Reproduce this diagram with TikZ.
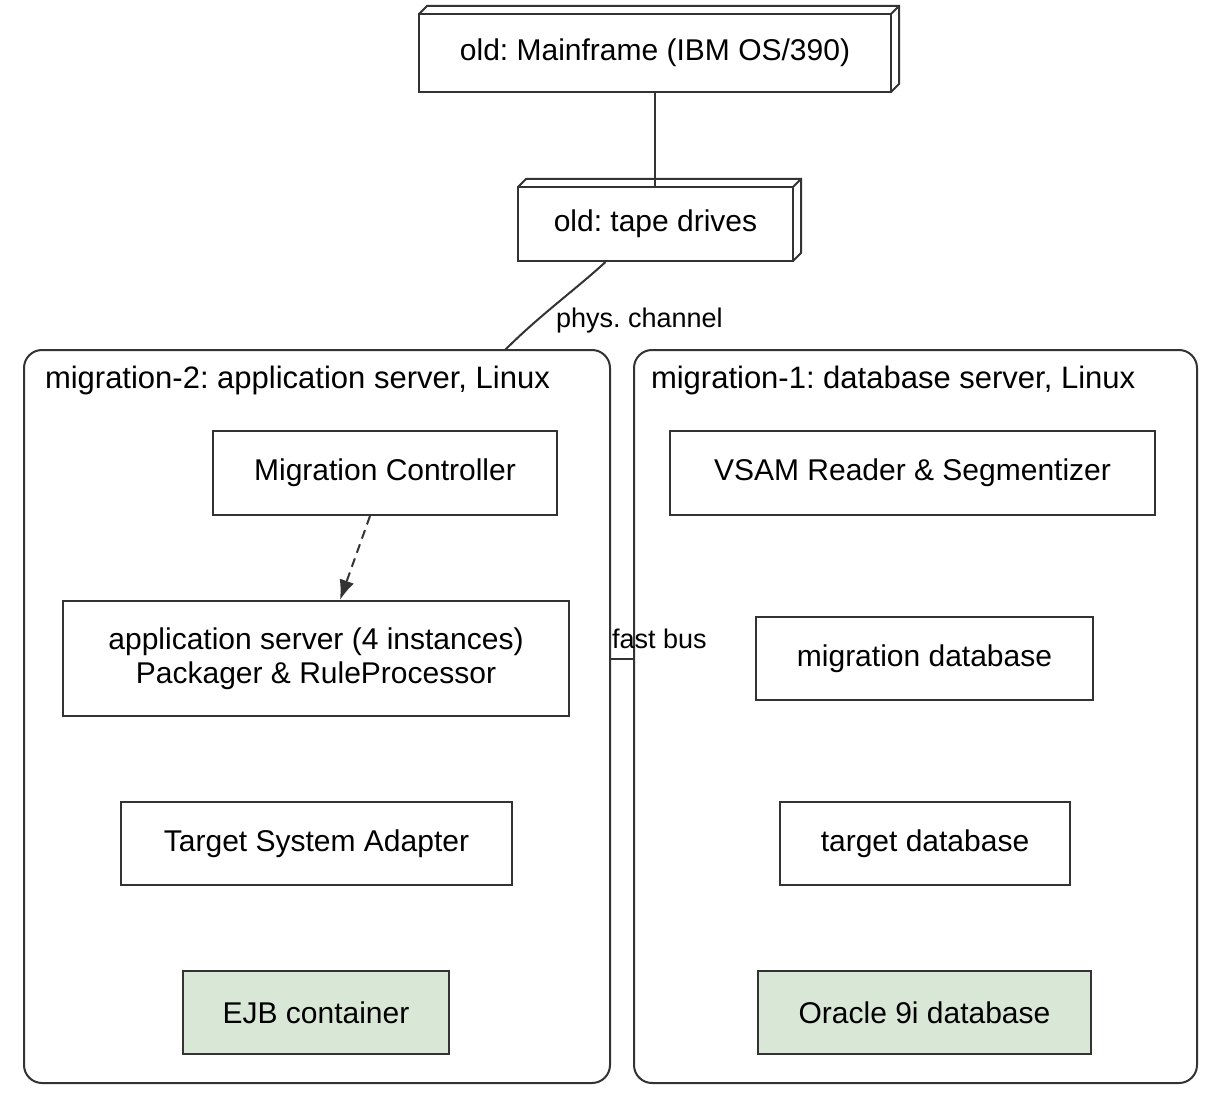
\documentclass[tikz,border=0pt]{standalone}
\usepackage{fontspec}
\setmainfont{Liberation Sans}
\usetikzlibrary{arrows.meta}
\frenchspacing
\begin{document}
\begin{tikzpicture}[x=1pt,y=-1pt,
  line width=2pt,
  box/.style={draw=ln,line width=2pt,inner sep=0pt,font=\fontsize{30}{34}\selectfont,align=center},
  clab/.style={font=\fontsize{31}{34}\selectfont,inner sep=0pt},
  lbl/.style={font=\fontsize{27}{29}\selectfont,inner sep=0pt}]
\definecolor{ln}{HTML}{333333}
\definecolor{gr}{HTML}{D9E8D6}
\path[use as bounding box] (0,0) rectangle (1221,1110);
% 3D nodes
\newcommand{\threed}[5]{%
  \draw[ln,line width=2pt] (#1,#3) -- ++(8,-8) -- (#2+8,#3-8) -- (#2+8,#4-8) -- (#2,#4);
  \draw[ln,line width=2pt] (#2,#3) -- (#2+8,#3-8);
  \node[box,minimum width=#2-#1,minimum height=#4-#3] (#5) at ({(#1+#2)/2},{(#3+#4)/2}) {};}
\threed{419}{891}{14}{92}{mf}
\node[box,draw=none] at (mf) {old: Mainframe (IBM OS/390)};
\threed{518}{793}{187}{261}{tape}
\node[box,draw=none] at (tape) {old: tape drives};
% clusters
\node[box,rounded corners=18pt,minimum width=586,minimum height=733] (c2) at (317,716.5) {};
\node[box,rounded corners=18pt,minimum width=563,minimum height=733] (c1) at (915.5,716.5) {};
\node[clab,anchor=west] at (44,380) {migration-2: application server, Linux};
\node[clab,anchor=west] at (650,380) {migration-1: database server, Linux};
% inner nodes
\node[box,minimum width=344,minimum height=84] (mc) at (385,473) {Migration Controller};
\node[box,minimum width=506,minimum height=115] (as) at (316,658.5) {application server (4 instances)\\Packager \& RuleProcessor};
\node[box,minimum width=391,minimum height=83] (tsa) at (316.5,843.5) {Target System Adapter};
\node[box,fill=gr,minimum width=266,minimum height=83] (ejb) at (316,1012.5) {EJB container};
\node[box,minimum width=485,minimum height=84] (vsam) at (912.5,473) {VSAM Reader \& Segmentizer};
\node[box,minimum width=337,minimum height=83] (mdb) at (924.5,658.5) {migration database};
\node[box,minimum width=290,minimum height=83] (tdb) at (925,843.5) {target database};
\node[box,fill=gr,minimum width=333,minimum height=83] (ora) at (924.5,1012.5) {Oracle 9i database};
% edges
\draw[ln] (mf.south) -- (tape.north -| mf.south);
\draw[ln] ([xshift=-50]tape.south) .. controls (575,290) and (540,315) .. (505,350);
\node[lbl,anchor=west] at (555,321) {phys. channel};
\draw[ln,dash pattern=on 9pt off 6pt,-{Latex[length=20pt,width=15pt]}] ([xshift=-15]mc.south) -- (as.north -| 340,0);
\draw[ln] (c2.east |- 0,659) -- (c1.west |- 0,659);
\node[lbl,anchor=west] at (611,639) {fast bus};
\end{tikzpicture}
\end{document}
